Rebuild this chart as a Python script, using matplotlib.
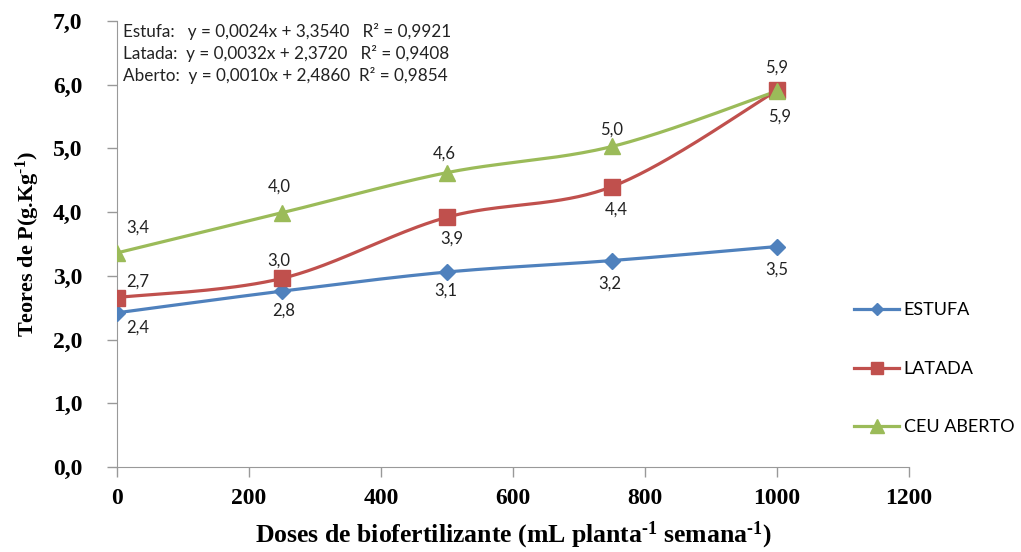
import matplotlib
matplotlib.use("Agg")
import matplotlib.pyplot as plt
import numpy as np

plt.rcParams["mathtext.fontset"] = "custom"
plt.rcParams["mathtext.rm"] = "Liberation Serif:bold"
plt.rcParams["mathtext.it"] = "Liberation Serif:bold"
plt.rcParams["mathtext.bf"] = "Liberation Serif:bold"

# Teores de P nas folhas por dose de biofertilizante
doses = [0, 250, 500, 750, 1000]
estufa = [2.42, 2.76, 3.06, 3.24, 3.46]
latada = [2.66, 2.96, 3.92, 4.40, 5.91]
ceu_aberto = [3.36, 3.99, 4.62, 5.03, 5.90]

nomes = ["ESTUFA", "LATADA", "CEU ABERTO"]
equacoes = [
    "Estufa:   y = 0,0024x + 3,3540   R² = 0,9921",
    "Latada:  y = 0,0032x + 2,3720   R² = 0,9408",
    "Aberto:  y = 0,0010x + 2,4860  R² = 0,9854",
]

cores = ["#4F81BD", "#C0504D", "#9BBB59"]
marcadores = ["D", "s", "^"]
tam_marc = [8, 11, 12]
# deslocamento dos rótulos (pixels)
desloc = [
    [(21, -15), (2, -19), (-1, -19), (-2, -23), (0, -23)],
    [(21, 16), (-3, 18), (5, -21), (4, -23), (3, -26)],
    [(21, 25), (-3, 26), (-3, 19), (0, 17), (0, 23)],
]


def suavizar(x, y, n=40):
    # curva suave tipo Excel (Bezier com tangentes de Catmull-Rom)
    p = np.column_stack([x, y]).astype(float)
    p = np.vstack([p[0], p, p[-1]])
    pts = []
    t = np.linspace(0, 1, n)[:, None]
    for i in range(1, len(p) - 2):
        p0, p1 = p[i], p[i + 1]
        c1 = p0 + (p[i + 1] - p[i - 1]) / 6
        c2 = p1 - (p[i + 2] - p[i]) / 6
        seg = (1 - t)**3 * p0 + 3 * (1 - t)**2 * t * c1 + 3 * (1 - t) * t**2 * c2 + t**3 * p1
        pts.append(seg)
    pts = np.vstack(pts)
    return pts[:, 0], pts[:, 1]


fig = plt.figure(figsize=(10.21, 5.52), dpi=100)
ax = fig.add_axes([0.1146, 0.154, 0.7757, 0.808])

series = [estufa, latada, ceu_aberto]
for k, ys in enumerate(series):
    sx, sy = suavizar(doses, ys)
    ax.plot(sx, sy, color=cores[k], lw=2.3, zorder=2)
    ax.plot(doses, ys, ls="none", marker=marcadores[k], ms=tam_marc[k],
            color=cores[k], zorder=3)
    ax.plot([], [], color=cores[k], lw=2.3, marker=marcadores[k],
            ms=tam_marc[k] * 0.8, label=nomes[k])
    for xi, yi, (dx, dy) in zip(doses, ys, desloc[k]):
        ax.annotate(f"{yi:.1f}".replace(".", ","), (xi, yi), xytext=(dx, dy),
                    textcoords="offset pixels", ha="center", va="center",
                    fontsize=12, family="Lato", color="#222222")

ax.set_xlim(0, 1200)
ax.set_ylim(0, 7)
ax.set_xticks(range(0, 1201, 200))
ax.set_yticks(np.arange(0, 7.1, 1))
ax.set_yticklabels([f"{v:.1f}".replace(".", ",") for v in np.arange(0, 7.1, 1)])
for s in ["top", "right"]:
    ax.spines[s].set_visible(False)
for s in ["left", "bottom"]:
    ax.spines[s].set_color("#999999")
ax.tick_params(direction="out", length=7, color="#999999", width=1)
ax.tick_params(axis="x", pad=8)
ax.tick_params(axis="y", pad=18)
for lab in ax.get_xticklabels() + ax.get_yticklabels():
    lab.set_family("Liberation Serif")
    lab.set_fontweight("bold")
    lab.set_fontsize(17)

ax.set_xlabel(r"Doses de biofertilizante (mL planta$^{\text{-1}}$ semana$^{\text{-1}}$)",
              family="Liberation Serif", fontweight="bold", fontsize=18.5, labelpad=8)
ax.set_ylabel(r"Teores de P(g.Kg$^{\text{-1}}$)", family="Liberation Serif",
              fontweight="bold", fontsize=16, labelpad=8)

for i, eq in enumerate(equacoes):
    fig.text(123 / 1021, 1 - (31 + 22.5 * i) / 552, eq, family="Lato",
             fontsize=12.3, va="center", ha="left", color="#222222")

ax.legend(loc="center left", bbox_to_anchor=(0.91, 0.22), frameon=False,
          labelspacing=2.35, handlelength=2.5, handletextpad=0.25,
          prop={"family": "Lato", "size": 13})

fig.savefig("out.png", dpi=100)
